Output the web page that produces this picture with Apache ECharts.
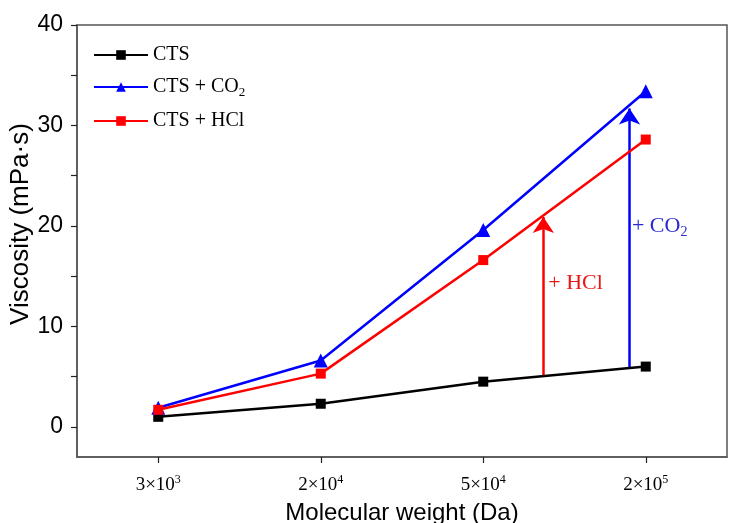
<!DOCTYPE html>
<html>
<head>
<meta charset="utf-8">
<script src="https://cdn.jsdelivr.net/npm/echarts@6/dist/echarts.min.js"></script>
<style>
  html, body { margin: 0; padding: 0; background: #fff; }
  #chart { width: 743px; height: 523px; }
</style>
</head>
<body>
<div id="chart"></div>
<script>
// molecular weight categories (^n = superscript)
const categories = ['3×10^3', '2×10^4', '5×10^4', '2×10^5'];

// viscosity (mPa·s)
const ctsValues = [1.0, 2.3, 4.5, 6.0];
const co2Values = [1.9, 6.6, 19.6, 33.4];
const hclValues = [1.7, 5.3, 16.6, 28.6];

const seriesNames = ['CTS', 'CTS + CO2', 'CTS + HCl'];

// arrows: category position, start and end viscosity
const arrowX = [2.37, 2.9];
const arrowFrom = [5.1, 5.9];
const arrowTo = [20.9, 31.7];

const yLabelValues = [0, 10, 20, 30, 40];
const yTickValues = [0, 5, 10, 15, 20, 25, 30, 35, 40];

const serif = '"Liberation Serif", "Times New Roman", serif';
const sans = '"Liberation Sans", Arial, sans-serif';

const chart = echarts.init(document.getElementById('chart'));

const subRich = {
  base: { fontFamily: serif, fontSize: 20, lineHeight: 24, color: '#000' },
  sub: { fontFamily: serif, fontSize: 13, lineHeight: 14, verticalAlign: 'bottom', color: '#000' }
};

const option = {
  animation: false,
  grid: {
    left: 77, right: 16, top: 25, bottom: 66,
    outerBoundsMode: 'none',
    show: true, borderColor: '#555', borderWidth: 1.5
  },
  legend: {
    orient: 'vertical',
    left: 88, top: 40,
    itemWidth: 54, itemHeight: 12, itemGap: 12,
    data: seriesNames,
    formatter: name => '{base|' + name.replace('CO2', 'CO') + '}' + (name.indexOf('CO2') >= 0 ? '{sub|2}' : ''),
    textStyle: { rich: subRich }
  },
  xAxis: [
    {
      type: 'category',
      data: categories,
      name: 'Molecular weight (Da)',
      nameLocation: 'middle',
      nameGap: 44,
      nameTextStyle: { fontFamily: sans, fontSize: 24, color: '#000' },
      axisLine: { onZero: false, lineStyle: { color: '#555', width: 1.5 } },
      axisTick: { show: true, alignWithLabel: true, interval: 0, length: 6, lineStyle: { color: '#222', width: 1.2 } },
      axisLabel: {
        margin: 17,
        formatter: v => v.replace(/\^(\d+)/, '{sup|$1}').replace(/^(.*?)\{/, '{base|$1}{'),
        rich: {
          base: { fontFamily: serif, fontSize: 19, lineHeight: 22, color: '#000' },
          sup: { fontFamily: serif, fontSize: 12, lineHeight: 12, verticalAlign: 'top', color: '#000' }
        }
      },
      splitLine: { show: false }
    },
    { type: 'value', min: -0.5, max: 3.5, show: false }
  ],
  yAxis: {
    type: 'value',
    min: -3, max: 40,
    axisLine: { show: true, onZero: false, lineStyle: { color: '#555', width: 1.5 } },
    axisTick: { show: true, length: 6, customValues: yTickValues, lineStyle: { color: '#222', width: 1.2 } },
    axisLabel: { customValues: yLabelValues, fontFamily: sans, fontSize: 23, color: '#000', margin: 14 },
    splitLine: { show: false }
  },
  series: [
    {
      name: seriesNames[0], type: 'line', data: ctsValues,
      symbol: 'rect', symbolSize: 10,
      lineStyle: { color: '#000', width: 2.5 }, itemStyle: { color: '#000' }
    },
    {
      name: seriesNames[1], type: 'line', data: co2Values,
      symbol: 'triangle', symbolSize: 14,
      lineStyle: { color: '#0000ff', width: 2.5 }, itemStyle: { color: '#0000ff' }
    },
    {
      name: seriesNames[2], type: 'line', data: hclValues,
      symbol: 'rect', symbolSize: 10,
      lineStyle: { color: '#ff0000', width: 2.5 }, itemStyle: { color: '#ff0000' }
    },
    {
      type: 'lines',
      coordinateSystem: 'cartesian2d',
      xAxisIndex: 1, yAxisIndex: 0,
      symbol: ['none', 'arrow'],
      symbolSize: [10, 16],
      lineStyle: { width: 2.5, opacity: 1, curveness: 0 },
      silent: true,
      data: [
        { coords: [[arrowX[0], arrowFrom[0]], [arrowX[0], arrowTo[0]]], lineStyle: { color: '#ff0000' } },
        { coords: [[arrowX[1], arrowFrom[1]], [arrowX[1], arrowTo[1]]], lineStyle: { color: '#0000ff' } }
      ]
    }
  ]
};

chart.setOption(option);

// y axis title and annotation texts next to arrows
const pHcl = chart.convertToPixel({ xAxisIndex: 1, yAxisIndex: 0 }, [2.4, 14.3]);
const pCo2 = chart.convertToPixel({ xAxisIndex: 1, yAxisIndex: 0 }, [2.915, 20.0]);
chart.setOption({
  graphic: [
    {
      type: 'text', x: 21, y: 224, rotation: Math.PI / 2,
      style: {
        text: 'Viscosity (mPa·s)', fill: '#000', font: '26px ' + sans,
        align: 'center', verticalAlign: 'middle'
      }
    },
    {
      type: 'text', x: pHcl[0], y: pHcl[1],
      style: {
        text: '+ HCl', fill: '#e81818', font: '22px ' + serif,
        verticalAlign: 'middle', align: 'left'
      }
    },
    {
      type: 'text', x: pCo2[0], y: pCo2[1],
      style: {
        text: '{b|+ CO}{s|2}', verticalAlign: 'middle', align: 'left',
        rich: {
          b: { fill: '#2a2ad0', fontFamily: serif, fontSize: 22, lineHeight: 26 },
          s: { fill: '#2a2ad0', fontFamily: serif, fontSize: 14, lineHeight: 15, verticalAlign: 'bottom' }
        }
      }
    }
  ]
});
</script>
</body>
</html>
